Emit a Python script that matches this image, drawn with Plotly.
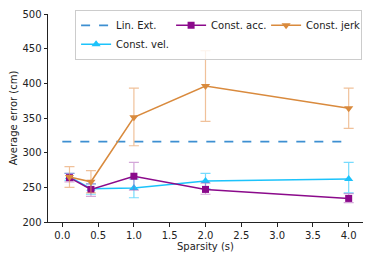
import plotly.graph_objects as go

sparsity = [0.1, 0.4, 1.0, 2.0, 4.0]
lin_x = [0.0, 4.0]
lin_y = [316, 316]

vel = [265, 248, 249, 259, 262]
vel_up = [5, 7, 13, 11, 24]
vel_dn = [5, 8, 14, 11, 20]

acc = [264, 247, 266, 247, 234]
acc_up = [6, 8, 20, 9, 7]
acc_dn = [6, 10, 20, 7, 6]

jerk = [265, 258, 351, 396, 364]
jerk_up = [15, 16, 42, 51, 29]
jerk_dn = [15, 16, 41, 51, 29]

x_ticks = [0.0, 0.5, 1.0, 1.5, 2.0, 2.5, 3.0, 3.5, 4.0]
y_ticks = [200, 250, 300, 350, 400, 450, 500]

def err(up, dn, col):
    return dict(type="data", symmetric=False, array=up, arrayminus=dn,
                color=col, thickness=1.2, width=5)

fig = go.Figure()
fig.add_trace(go.Scatter(x=lin_x, y=lin_y, mode="lines", name="Lin. Ext.",
                         line=dict(color="#3d8fd1", width=1.8, dash="dash"),
                         legendrank=1))
fig.add_trace(go.Scatter(x=sparsity, y=vel, mode="lines+markers", name="Const. vel.",
                         line=dict(color="#1cc3fb", width=1.5),
                         marker=dict(symbol="triangle-up", size=8, color="#1cc3fb"),
                         error_y=err(vel_up, vel_dn, "rgba(28,195,251,0.6)"),
                         legendrank=4))
fig.add_trace(go.Scatter(x=sparsity, y=acc, mode="lines+markers", name="Const. acc.",
                         line=dict(color="#8b0a8b", width=1.5),
                         marker=dict(symbol="square", size=7, color="#8b0a8b"),
                         error_y=err(acc_up, acc_dn, "rgba(170,80,180,0.5)"),
                         legendrank=2))
fig.add_trace(go.Scatter(x=sparsity, y=jerk, mode="lines+markers", name="Const. jerk",
                         line=dict(color="#d98a3d", width=1.5),
                         marker=dict(symbol="triangle-down", size=8, color="#d98a3d"),
                         error_y=err(jerk_up, jerk_dn, "rgba(232,160,100,0.65)"),
                         legendrank=3))

# page body adds an 8px offset, so the figure is sized to fit the window
fig.update_layout(
    width=366, height=254,
    margin=dict(l=40, r=11, t=6, b=40, autoexpand=False),
    plot_bgcolor="white", paper_bgcolor="white",
    font=dict(family="DejaVu Sans", size=10, color="#222"),
    showlegend=True,
    legend=dict(orientation="h", x=0.086, y=1.02, xanchor="left", yanchor="top",
                bgcolor="rgba(255,255,255,0.8)", bordercolor="#cccccc", borderwidth=1,
                font=dict(size=10), entrywidth=50, entrywidthmode="pixels",
                itemwidth=30, tracegroupgap=0),
    xaxis=dict(range=[-0.2, 4.2], tickvals=x_ticks,
               ticktext=[f"{v:.1f}" for v in x_ticks], automargin=False,
               showline=True, linecolor="#222", linewidth=1, ticks="outside",
               ticklen=3.5, tickcolor="#222", showgrid=False, zeroline=False,
               title=dict(text="Sparsity (s)", standoff=2, font=dict(size=10))),
    yaxis=dict(range=[200, 500], tickvals=y_ticks, automargin=False,
               showline=True, linecolor="#222", linewidth=1, ticks="outside",
               ticklen=3.5, tickcolor="#222", showgrid=False, zeroline=False,
               title=dict(text="Average error (cm)", standoff=2, font=dict(size=10))),
)

fig.write_html("out.html")
